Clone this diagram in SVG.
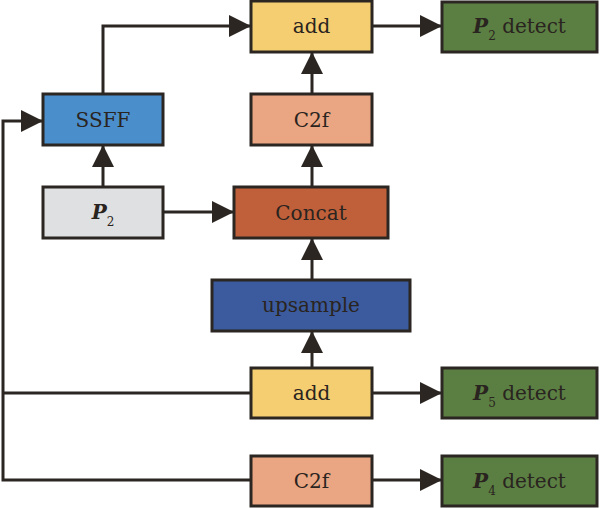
<svg xmlns="http://www.w3.org/2000/svg" width="608" height="508" viewBox="0 0 608 508">
<style>
.b{stroke:#2b2622;stroke-width:3}
.t{font-family:"DejaVu Serif","Liberation Serif",serif;font-size:20px;fill:#2a2420;text-anchor:middle}
.p{font-weight:bold;font-style:italic}
.s{font-size:12px}
.c{fill:none;stroke:#2b2622;stroke-width:3}
</style>
<defs>
<marker id="a" viewBox="0 0 22 22" refX="22" refY="11" markerWidth="22" markerHeight="22" markerUnits="userSpaceOnUse" orient="auto">
<path d="M0,0 L22,11 L0,22 Z" fill="#2b2622"/>
</marker>
</defs>
<rect width="608" height="508" fill="#fff"/>
<g id="connectors">
<path class="c" d="M103,94 V26 H251" marker-end="url(#a)"/>
<path class="c" d="M372,26 H442" marker-end="url(#a)"/>
<path class="c" d="M312,94 V52" marker-end="url(#a)"/>
<path class="c" d="M312,187 V145" marker-end="url(#a)"/>
<path class="c" d="M103,187 V145" marker-end="url(#a)"/>
<path class="c" d="M163,212 H234" marker-end="url(#a)"/>
<path class="c" d="M312,280 V238" marker-end="url(#a)"/>
<path class="c" d="M312,368 V331" marker-end="url(#a)"/>
<path class="c" d="M372,393 H442" marker-end="url(#a)"/>
<path class="c" d="M372,480 H442" marker-end="url(#a)"/>
<path class="c" d="M251,393 H3"/>
<path class="c" d="M251,480 H3 V121 H43" marker-end="url(#a)"/>
</g>
<g id="add_top"><rect class="b" x="251" y="1" width="121" height="51" fill="#F5CE71"/><text class="t" x="311.5" y="33">add</text></g>
<g id="p2_detect"><rect class="b" x="442" y="2" width="155" height="50" fill="#5B7F42"/><text class="t" x="519.5" y="33"><tspan class="p">P</tspan><tspan class="s" dy="7">2</tspan><tspan dy="-7"> detect</tspan></text></g>
<g id="ssff"><rect class="b" x="43" y="94" width="120" height="51" fill="#4B8ECC"/><text class="t" x="103" y="127">SSFF</text></g>
<g id="c2f_top"><rect class="b" x="251" y="94" width="121" height="51" fill="#EAA682"/><text class="t" x="311.5" y="127">C2f</text></g>
<g id="p2"><rect class="b" x="43" y="187" width="120" height="51" fill="#DFE0E2"/><text class="t" x="103" y="219"><tspan class="p">P</tspan><tspan class="s" dy="7">2</tspan></text></g>
<g id="concat"><rect class="b" x="234" y="187" width="154" height="51" fill="#C0603A"/><text class="t" x="311" y="220">Concat</text></g>
<g id="upsample"><rect class="b" x="212" y="280" width="198" height="51" fill="#3B5B9E"/><text class="t" x="311" y="312">upsample</text></g>
<g id="add_bottom"><rect class="b" x="251" y="368" width="121" height="50" fill="#F5CE71"/><text class="t" x="311.5" y="400">add</text></g>
<g id="p5_detect"><rect class="b" x="442" y="368" width="155" height="50" fill="#5B7F42"/><text class="t" x="519.5" y="400"><tspan class="p">P</tspan><tspan class="s" dy="7">5</tspan><tspan dy="-7"> detect</tspan></text></g>
<g id="c2f_bottom"><rect class="b" x="251" y="456" width="121" height="50" fill="#EAA682"/><text class="t" x="311.5" y="488">C2f</text></g>
<g id="p4_detect"><rect class="b" x="442" y="456" width="155" height="50" fill="#5B7F42"/><text class="t" x="519.5" y="488"><tspan class="p">P</tspan><tspan class="s" dy="7">4</tspan><tspan dy="-7"> detect</tspan></text></g>
</svg>
